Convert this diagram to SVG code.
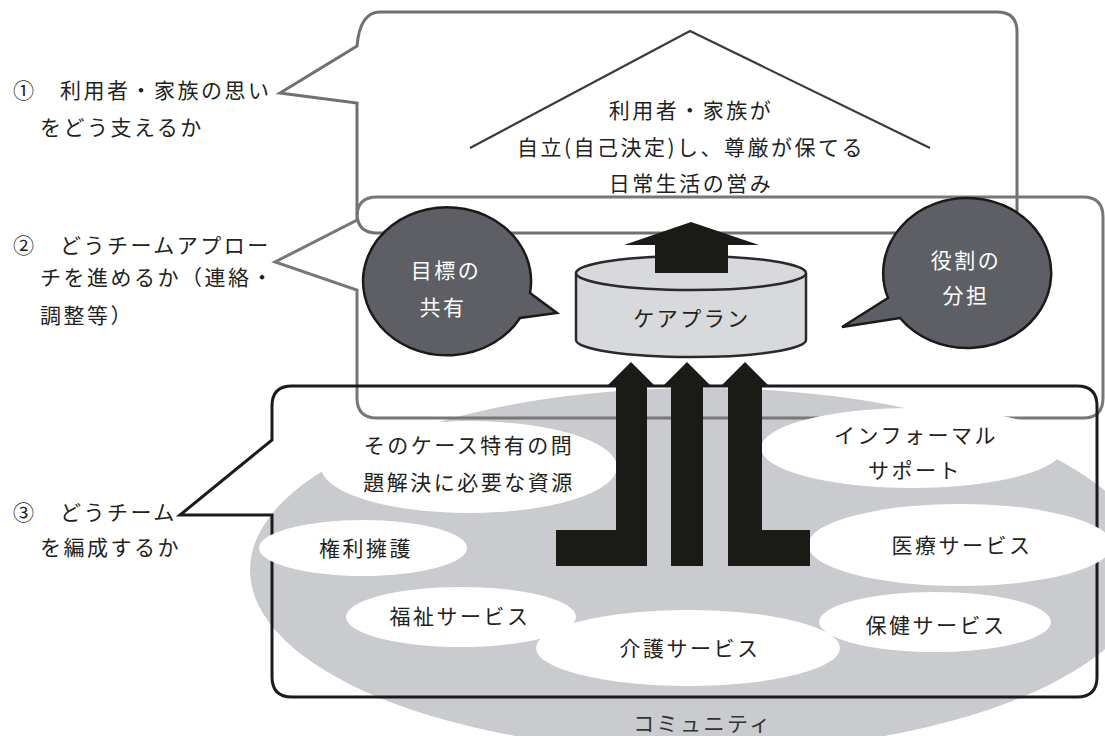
<svg xmlns="http://www.w3.org/2000/svg" width="1105" height="736" viewBox="0 0 1105 736">
<style>
.t{font-family:"Noto Sans CJK JP","Noto Sans CJK SC",sans-serif;font-size:21px;letter-spacing:2.5px;fill:#231f20}
.c{text-anchor:middle}
.w{fill:#ffffff}
.box1{fill:none;stroke:#707070;stroke-width:3}
.box2{fill:none;stroke:#777777;stroke-width:3}
.box3{fill:none;stroke:#1b1b1b;stroke-width:3}
.oval{fill:#ffffff}
.bub{fill:#5e5f64;stroke:#1a1a1a;stroke-width:2.5}
.arr{fill:#1a1a16}
</style>
<rect width="1105" height="736" fill="#ffffff"/>
<g id="community">
<ellipse cx="700" cy="570" rx="450" ry="182" fill="#c9cbce"/>
<text class="t c" x="703" y="731" style="fill:#333">コミュニティ</text>
</g>
<g id="connectors">
<path id="box1" class="box1" d="M380,12 H997 Q1017,12 1017,32 V213 Q1017,233 997,233 H377 Q357,233 357,213 V103 L280,93 L357,46 Q360,12 380,12 Z"/>
<path id="box2" class="box2" d="M377,197 H1083 Q1103,197 1103,217 V398 Q1103,418 1083,418 H377 Q357,418 357,398 V290 L275,262 L357,220 V217 Q357,197 377,197 Z"/>
<path id="box3" class="box3" d="M292,386 H1077 Q1097,386 1097,406 V677 Q1097,697 1077,697 H292 Q272,697 272,677 V515 H180 L272,440 V406 Q272,386 292,386 Z"/>
<polyline points="470,148 690,31 930,148" fill="none" stroke="#3a3a3a" stroke-width="2.2"/>
</g>
<g id="house-text">
<text class="t c" x="691" y="118">利用者・家族が</text>
<text class="t c" x="691" y="155">自立(自己決定)し、尊厳が保てる</text>
<text class="t c" x="691" y="191">日常生活の営み</text>
</g>
<g id="label1">
<text class="t" x="13" y="98">①　利用者・家族の思い</text>
<text class="t" x="40" y="135">をどう支えるか</text>
</g>
<g id="label2">
<text class="t" x="13" y="253">②　どうチームアプロー</text>
<text class="t" x="40" y="285">チを進めるか（連絡・</text>
<text class="t" x="40" y="323">調整等）</text>
</g>
<g id="label3">
<text class="t" x="13" y="520">③　どうチーム</text>
<text class="t" x="40" y="555">を編成するか</text>
</g>
<g id="bubble-left">
<path class="bub" d="M530,293 L557,313 L520,318 A84,74 0 1 1 530,293 Z"/>
<text class="t c w" x="446" y="278">目標の</text>
<text class="t c w" x="443" y="315">共有</text>
</g>
<g id="bubble-right">
<path class="bub" d="M888,298 L842,327 L900,318 A84,75 0 1 0 888,298 Z"/>
<text class="t c w" x="966" y="268">役割の</text>
<text class="t c w" x="966" y="303">分担</text>
</g>
<g id="careplan">
<path d="M576,273 V340 A115,17 0 0 0 806,340 V273" fill="#d8d9dc" stroke="#2a2a2a" stroke-width="2.5"/>
<ellipse cx="691" cy="273" rx="115" ry="17" fill="#d8d9dc" stroke="#2a2a2a" stroke-width="2.5"/>
<text class="t c" x="692" y="326">ケアプラン</text>
</g>
<g id="arrow-up">
<polygon class="arr" points="691,222 759,245 728,245 728,273 655,273 655,245 624,245"/>
</g>
<g id="node-resource">
<ellipse class="oval" cx="469" cy="467" rx="148" ry="46"/>
<text class="t c" x="469" y="453">そのケース特有の問</text>
<text class="t c" x="469" y="490">題解決に必要な資源</text>
</g>
<g id="node-informal">
<ellipse class="oval" cx="912" cy="448" rx="151" ry="40"/>
<text class="t c" x="916" y="443">インフォーマル</text>
<text class="t c" x="915" y="478">サポート</text>
</g>
<g id="node-rights">
<ellipse class="oval" cx="363" cy="548" rx="104" ry="28"/>
<text class="t c" x="366" y="556">権利擁護</text>
</g>
<g id="node-medical">
<ellipse class="oval" cx="960" cy="545" rx="152" ry="41"/>
<text class="t c" x="962" y="553">医療サービス</text>
</g>
<g id="node-welfare">
<ellipse class="oval" cx="461" cy="617" rx="115" ry="30"/>
<text class="t c" x="460" y="624">福祉サービス</text>
</g>
<g id="node-health">
<ellipse class="oval" cx="935" cy="622" rx="116" ry="30"/>
<text class="t c" x="936" y="633">保健サービス</text>
</g>
<g id="node-care">
<ellipse class="oval" cx="688" cy="648" rx="152" ry="38"/>
<text class="t c" x="690" y="656">介護サービス</text>
</g>
<g id="arrows-in">
<polygon class="arr" points="631,362 656,387 647,387 647,566 556,566 556,530 616,530 616,387 606,387"/>
<polygon class="arr" points="687,362 712,387 703,387 703,566 671,566 671,387 662,387"/>
<polygon class="arr" points="745,362 770,387 762,387 762,530 810,530 810,566 728,566 728,387 720,387"/>
</g>
</svg>
